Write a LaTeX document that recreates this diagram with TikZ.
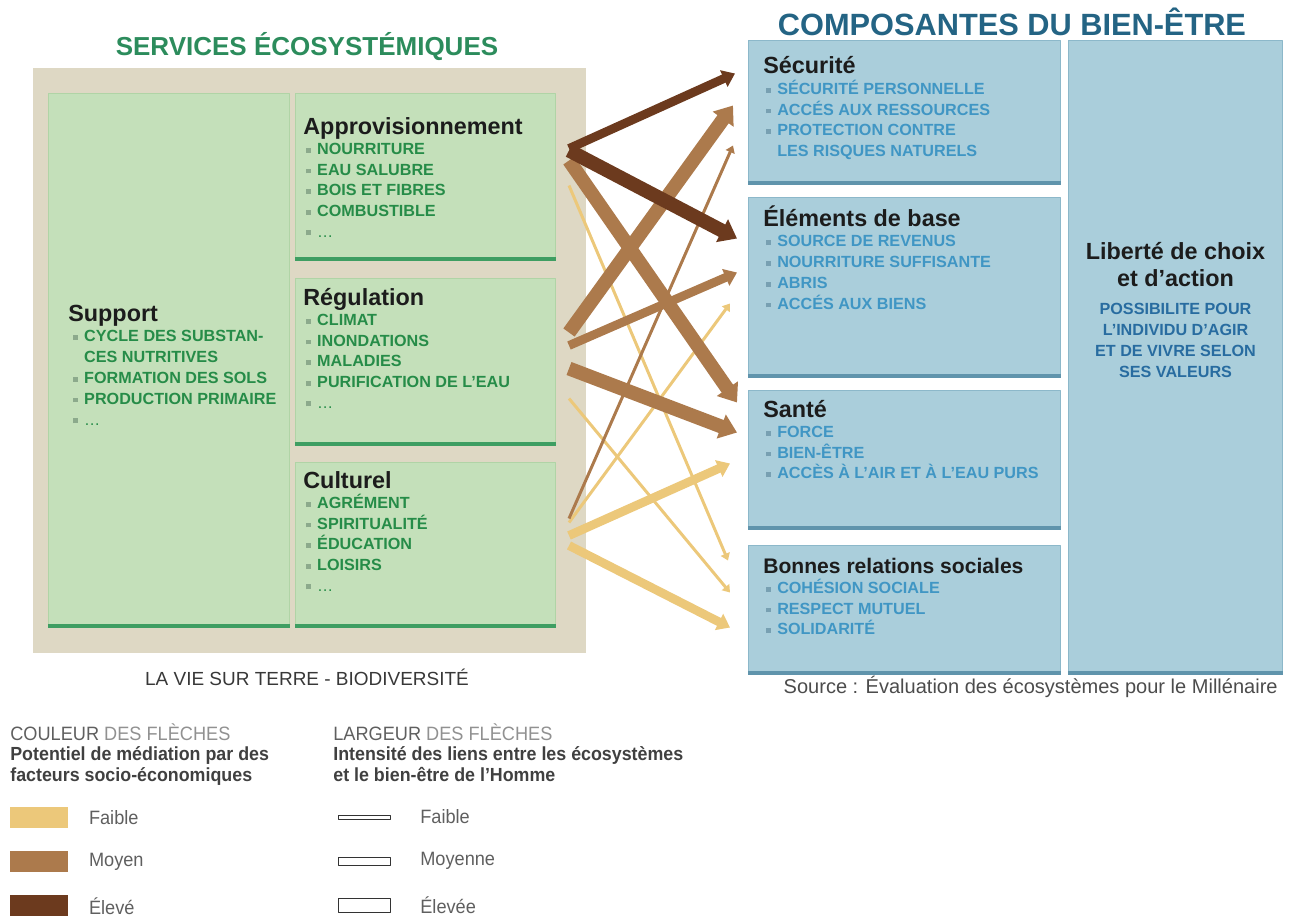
\documentclass[tikz,border=0pt]{standalone}
\usepackage{fontspec}
\setmainfont{Liberation Sans}
\newfontfamily\etroit[FakeStretch=0.94]{Liberation Sans}
\usetikzlibrary{arrows.meta}

\definecolor{beige}{RGB}{222,216,196}
\definecolor{vertboite}{RGB}{196,224,186}
\definecolor{vertbord}{RGB}{176,212,166}
\definecolor{vertligne}{RGB}{62,158,98}
\definecolor{verttexte}{RGB}{38,140,72}
\definecolor{verttitre}{RGB}{44,140,92}
\definecolor{bleuboite}{RGB}{170,206,219}
\definecolor{bleubord}{RGB}{140,184,202}
\definecolor{bleuligne}{RGB}{96,148,172}
\definecolor{bleutexte}{RGB}{64,150,196}
\definecolor{bleufonce}{RGB}{40,108,160}
\definecolor{bleutitre}{RGB}{36,100,132}
\definecolor{noirtitre}{RGB}{28,28,28}
\definecolor{jaune}{RGB}{236,200,122}
\definecolor{brun}{RGB}{172,122,76}
\definecolor{brunfonce}{RGB}{108,58,30}
\definecolor{grisfonce}{RGB}{95,95,95}
\definecolor{grisclair}{RGB}{145,145,145}
\definecolor{pucevert}{RGB}{140,170,140}
\definecolor{pucebleu}{RGB}{120,160,178}

\newcommand{\puce}{\textcolor{pucevert}{\rule[0.2ex]{2.8pt}{2.8pt}}\hspace{3.4pt}}
\newcommand{\puceb}{\textcolor{pucebleu}{\rule[0.2ex]{2.8pt}{2.8pt}}\hspace{3.4pt}}
\newcommand{\sanspuce}{\hspace{6.2pt}}
\newcommand{\etc}{{\mdseries\ldots}}

\begin{document}
\begin{tikzpicture}[x=0.02cm, y=-0.02cm, line join=round, >=Triangle,
  boite/.style={anchor=north west, inner sep=0},
  vbox/.style={boite, fill=vertboite, draw=vertbord, line width=0.6pt},
  bbox/.style={boite, fill=bleuboite, draw=bleubord, line width=0.6pt},
  entete/.style={anchor=base west, inner sep=0, font=\fontsize{13.3}{16}\selectfont\bfseries, text=noirtitre},
  itemv/.style={anchor=base west, inner sep=0, font=\fontsize{9.2}{11}\selectfont\bfseries, text=verttexte},
  itemb/.style={itemv, text=bleutexte},
  legtexte/.style={inner sep=0, font=\etroit\fontsize{11}{13}\selectfont, text=grisfonce},
  legsous/.style={anchor=base west, inner sep=0, font=\etroit\fontsize{10.8}{13}\selectfont\bfseries, text=black!75},
  fleche/.style={line cap=butt, -{Triangle[length=2.5pt 0.9, width=3pt 1.4]}},
  mince/.style={fleche, line width=1.7pt},
  moyenne/.style={fleche, line width=5pt},
  large/.style={fleche, line width=7.9pt}]

\useasboundingbox (0,0) rectangle (1289,919);

% services
\node[boite, fill=beige, minimum width=11.06cm, minimum height=11.7cm] (fond) at (33,68) {};
\node[font=\fontsize{14.8}{17}\selectfont\bfseries, text=verttitre] (titreserv) at (307,47) {SERVICES ÉCOSYSTÉMIQUES};

\node[vbox, minimum width=4.82cm, minimum height=10.64cm] (support) at (48,93) {};
\node[vbox, minimum width=5.2cm, minimum height=3.3cm] (appro) at (295,93) {};
\node[vbox, minimum width=5.2cm, minimum height=3.3cm] (regul) at (295,278) {};
\node[vbox, minimum width=5.2cm, minimum height=3.26cm] (cult) at (295,462) {};
\foreach \b in {support,appro,regul,cult}
  \draw[vertligne, line width=1.8pt] (\b.south west) -- (\b.south east);

\node[entete] (h-support) at ([shift={(20,228)}]support.north west) {Support};
\foreach \p/\t [count=\i] in {\puce/CYCLE DES SUBSTAN-, \sanspuce/CES NUTRITIVES, \puce/FORMATION DES SOLS, \puce/PRODUCTION PRIMAIRE, \puce/\etc}
  \node[itemv] (support-\i) at ([shift={(25,228+20.8*\i)}]support.north west) {\p\t};

\node[entete] (h-appro) at ([shift={(8,41)}]appro.north west) {Approvisionnement};
\foreach \t [count=\i] in {NOURRITURE, EAU SALUBRE, BOIS ET FIBRES, COMBUSTIBLE, \etc}
  \node[itemv] (appro-\i) at ([shift={(11,41+20.6*\i)}]appro.north west) {\puce\t};

\node[entete] (h-regul) at ([shift={(8,27)}]regul.north west) {Régulation};
\foreach \t [count=\i] in {CLIMAT, INONDATIONS, MALADIES, PURIFICATION DE L’EAU, \etc}
  \node[itemv] (regul-\i) at ([shift={(11,27+20.6*\i)}]regul.north west) {\puce\t};

\node[entete] (h-cult) at ([shift={(8,26)}]cult.north west) {Culturel};
\foreach \t [count=\i] in {AGRÉMENT, SPIRITUALITÉ, ÉDUCATION, LOISIRS, \etc}
  \node[itemv] (cult-\i) at ([shift={(11,26+20.6*\i)}]cult.north west) {\puce\t};

\node[font=\fontsize{10.8}{13}\selectfont, text=black!78] (vie) at (307,677) {LA VIE SUR TERRE - BIODIVERSITÉ};

% bien-etre
\node[font=\fontsize{17.5}{20}\selectfont\bfseries, text=bleutitre] (titrecomp) at (1012,22) {COMPOSANTES DU BIEN-ÊTRE};

\node[bbox, minimum width=6.24cm, minimum height=2.84cm] (secu) at (748,40) {};
\node[bbox, minimum width=6.24cm, minimum height=3.56cm] (base) at (748,197) {};
\node[bbox, minimum width=6.24cm, minimum height=2.74cm] (sante) at (748,390) {};
\node[bbox, minimum width=6.24cm, minimum height=2.54cm] (social) at (748,545) {};
\node[bbox, minimum width=4.28cm, minimum height=12.64cm] (liberte) at (1068,40) {};
\foreach \b in {secu,base,sante,social,liberte}
  \draw[bleuligne, line width=1.8pt] (\b.south west) -- (\b.south east);

\node[entete] (h-secu) at ([shift={(15,34)}]secu.north west) {Sécurité};
\foreach \p/\t [count=\i] in {\puceb/SÉCURITÉ PERSONNELLE, \puceb/ACCÉS AUX RESSOURCES, \puceb/PROTECTION CONTRE, \sanspuce/LES RISQUES NATURELS}
  \node[itemb] (secu-\i) at ([shift={(18,34+20.6*\i)}]secu.north west) {\p\t};

\node[entete] (h-base) at ([shift={(15,29)}]base.north west) {Éléments de base};
\foreach \t [count=\i] in {SOURCE DE REVENUS, NOURRITURE SUFFISANTE, ABRIS, ACCÉS AUX BIENS}
  \node[itemb] (base-\i) at ([shift={(18,29+20.8*\i)}]base.north west) {\puceb\t};

\node[entete] (h-sante) at ([shift={(15,27)}]sante.north west) {Santé};
\foreach \t [count=\i] in {FORCE, BIEN-ÊTRE, ACCÈS À L’AIR ET À L’EAU PURS}
  \node[itemb] (sante-\i) at ([shift={(18,27+20.6*\i)}]sante.north west) {\puceb\t};

\node[entete, font=\fontsize{12}{15}\selectfont\bfseries] (h-social) at ([shift={(15,28)}]social.north west) {Bonnes relations sociales};
\foreach \t [count=\i] in {COHÉSION SOCIALE, RESPECT MUTUEL, SOLIDARITÉ}
  \node[itemb] (social-\i) at ([shift={(18,28+20.6*\i)}]social.north west) {\puceb\t};

\node[entete, anchor=base] (h-lib1) at ([shift={(0,219)}]liberte.north) {Liberté de choix};
\node[entete, anchor=base] (h-lib2) at ([shift={(0,246)}]liberte.north) {et d’action};
\foreach \t [count=\i] in {POSSIBILITE POUR, L’INDIVIDU D’AGIR, ET DE VIVRE SELON, SES VALEURS}
  \node[itemv, anchor=base, text=bleufonce] (lib-\i) at ([shift={(0,253+21*\i)}]liberte.north) {\t};

\node[anchor=base east, inner sep=0, font=\fontsize{11.4}{13}\selectfont, text=black!70] (source) at (1278,693) {Source : Évaluation des écosystèmes pour le Millénaire};

% fleches
\draw[mince, jaune] ([shift={(13,9.5)}]appro.east) -- ([shift={(-20,-48.5)}]social.west);
\draw[mince, jaune] ([shift={(13,37.5)}]regul.east) -- ([shift={(-18,-16.5)}]social.west);
\draw[mince, jaune] ([shift={(13,-21.5)}]cult.east) -- ([shift={(-18,17)}]base.west);
\draw[moyenne, jaune] ([shift={(13,-8.5)}]cult.east) -- ([shift={(-18,4.5)}]sante.west);
\draw[moyenne, jaune] ([shift={(13,1.5)}]cult.east) -- ([shift={(-18,18.5)}]social.west);
\draw[mince, brun] ([shift={(13,-25.5)}]cult.east) -- ([shift={(-15,34)}]secu.west);
\draw[large, brun] ([shift={(13,-28.5)}]regul.east) -- ([shift={(-15,-6)}]secu.west);
\draw[moyenne, brun] ([shift={(13,-15.5)}]regul.east) -- ([shift={(-11,-14)}]base.west);
\draw[large, brun] ([shift={(13,7.5)}]regul.east) -- ([shift={(-11,-26.5)}]sante.west);
\draw[large, brun] ([shift={(13,-15.5)}]appro.east) -- ([shift={(-11,-56.5)}]sante.west);
\draw[moyenne, brunfonce] ([shift={(13,-27.5)}]appro.east) -- ([shift={(-13,-38)}]secu.west);
\draw[large, brunfonce] ([shift={(13,-25.5)}]appro.east) -- ([shift={(-11,-48)}]base.west);

% legende
\node[anchor=base west, legtexte] (coul) at (10,740) {\textcolor{grisfonce}{COULEUR} \textcolor{grisclair}{DES FLÈCHES}};
\node[legsous] (coul-1) at (10,760) {Potentiel de médiation par des};
\node[legsous] (coul-2) at (10,781) {facteurs socio-économiques};
\foreach \c/\t [count=\i] in {jaune/Faible, brun/Moyen, brunfonce/Élevé} {
  \node[boite, fill=\c, minimum width=1.16cm, minimum height=0.42cm] (case-\i) at (10,{807+44*(\i-1)}) {};
  \node[legtexte, anchor=west] (lab-\i) at ([shift={(20,0)}]case-\i.east) {\t};
}

\node[anchor=base west, legtexte] (larg) at (333,740) {\textcolor{grisfonce}{LARGEUR} \textcolor{grisclair}{DES FLÈCHES}};
\node[legsous] (larg-1) at (333,760) {Intensité des liens entre les écosystèmes};
\node[legsous] (larg-2) at (333,781) {et le bien-être de l’Homme};
\foreach \h/\t [count=\i] in {0.08cm/Faible, 0.16cm/Moyenne, 0.28cm/Élevée} {
  \node[draw=black!80, line width=0.5pt, fill=white, inner sep=0, minimum width=1.04cm, minimum height=\h, anchor=west] (ech-\i) at (338,{817+44*(\i-1)}) {};
  \node[legtexte, anchor=west] (lab2-\i) at (420,{817+44*(\i-1)}) {\t};
}

\end{tikzpicture}
\end{document}
